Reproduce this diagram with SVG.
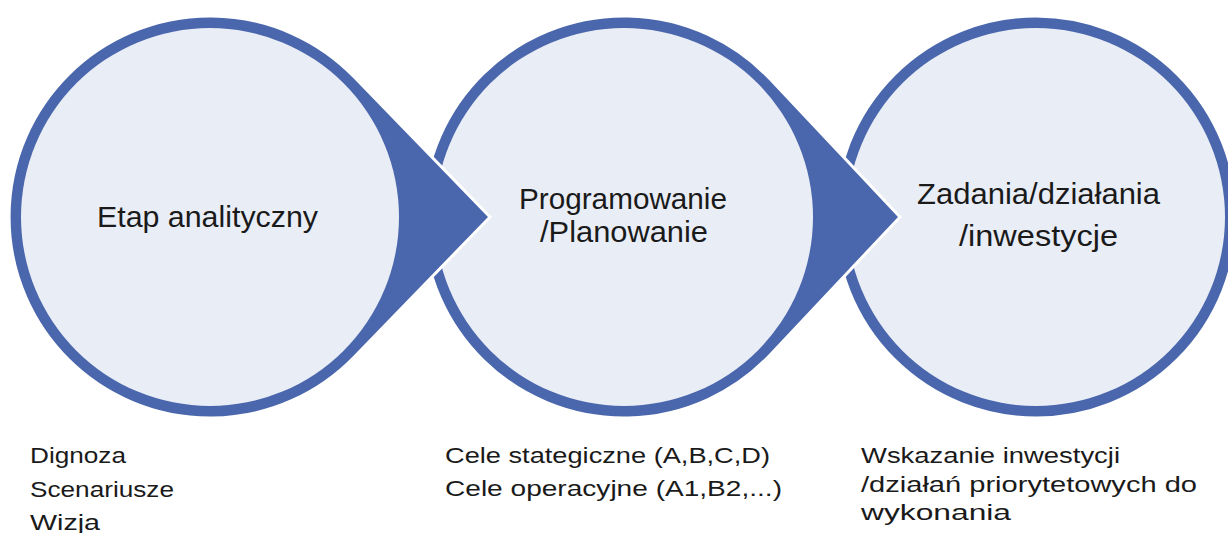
<svg xmlns="http://www.w3.org/2000/svg" width="1228" height="533" viewBox="0 0 1228 533">
<style>
.ring{fill:#4a66ac;stroke:#ffffff;stroke-width:3;stroke-linejoin:miter}
.core{fill:#e9edf6}
.t{font-family:"Liberation Sans",Arial,sans-serif;fill:#1a1a1a;text-anchor:start}
.big{font-size:29px}
.small{font-size:22px}
</style>
<rect width="1228" height="533" fill="#ffffff"/>
<g id="node-zadania">
<circle class="ring" cx="1036" cy="217" r="201"/>
<circle class="core" cx="1036" cy="217" r="189"/>
<text class="t big" x="917" y="204" textLength="243" lengthAdjust="spacingAndGlyphs">Zadania/działania</text>
<text class="t big" x="959" y="246" textLength="159" lengthAdjust="spacingAndGlyphs">/inwestycje</text>
</g>
<g id="node-programowanie">
<path class="ring" d="M770.4 79.3 L900 217 L770.4 354.7 A201 201 0 1 1 770.4 79.3 Z"/>
<circle class="core" cx="624" cy="217" r="189"/>
<text class="t big" x="519" y="209" textLength="208" lengthAdjust="spacingAndGlyphs">Programowanie</text>
<text class="t big" x="540" y="242" textLength="168" lengthAdjust="spacingAndGlyphs">/Planowanie</text>
</g>
<g id="node-etap">
<path class="ring" d="M354.3 77 L490 217 L354.3 357 A201 201 0 1 1 354.3 77 Z"/>
<circle class="core" cx="210" cy="217" r="189"/>
<text class="t big" x="97" y="227" textLength="221" lengthAdjust="spacingAndGlyphs">Etap analityczny</text>
</g>
<g id="labels-etap">
<text class="t small" x="30" y="463" textLength="96" lengthAdjust="spacingAndGlyphs">Dignoza</text>
<text class="t small" x="30" y="497" textLength="144" lengthAdjust="spacingAndGlyphs">Scenariusze</text>
<text class="t small" x="30" y="530" textLength="70" lengthAdjust="spacingAndGlyphs">Wizja</text>
</g>
<g id="labels-programowanie">
<text class="t small" x="445" y="463" textLength="325" lengthAdjust="spacingAndGlyphs">Cele stategiczne (A,B,C,D)</text>
<text class="t small" x="445" y="496" textLength="337" lengthAdjust="spacingAndGlyphs">Cele operacyjne (A1,B2,...)</text>
</g>
<g id="labels-zadania">
<text class="t small" x="861" y="463" textLength="259" lengthAdjust="spacingAndGlyphs">Wskazanie inwestycji</text>
<text class="t small" x="861" y="492" textLength="336" lengthAdjust="spacingAndGlyphs">/działań priorytetowych do</text>
<text class="t small" x="861" y="520" textLength="150" lengthAdjust="spacingAndGlyphs">wykonania</text>
</g>
</svg>
